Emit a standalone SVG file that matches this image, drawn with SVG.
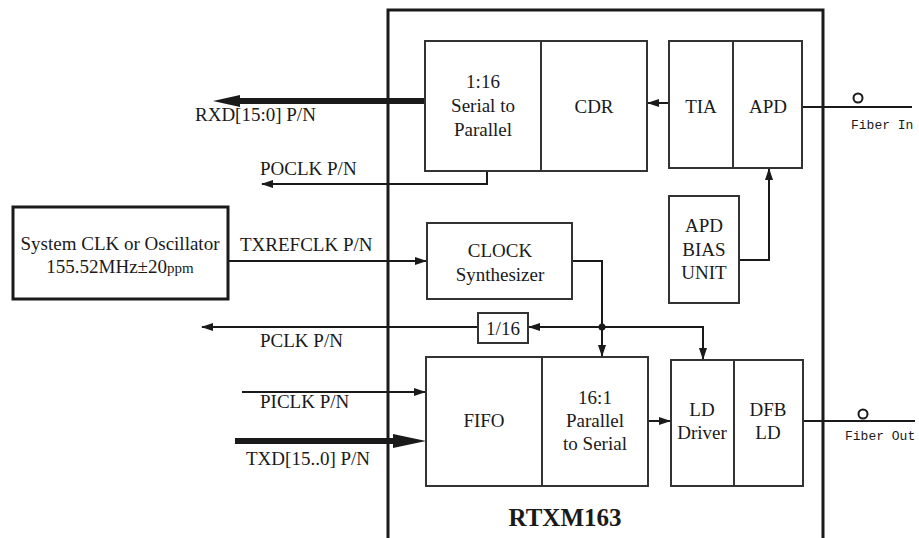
<svg xmlns="http://www.w3.org/2000/svg" width="919" height="538" viewBox="0 0 919 538">
<defs>
<style>
.t{font-family:"Liberation Serif","Times New Roman",serif;font-size:19px;fill:#1a1a1a}
.c{text-anchor:middle}
.m{font-family:"Liberation Mono","DejaVu Sans Mono",monospace;font-size:13px;fill:#1a1a1a}
.b{fill:#fff;stroke:#333;stroke-width:2}
.w{fill:none;stroke:#1a1a1a;stroke-width:2}
</style>
<marker id="ah" markerWidth="12" markerHeight="8" refX="11" refY="4" orient="auto" markerUnits="userSpaceOnUse">
<path d="M0,0 L12,4 L0,8 z" fill="#1a1a1a"/>
</marker>
</defs>
<rect width="919" height="538" fill="#fff"/>

<g id="module">
<path d="M388,538 V10 H823 V538" fill="none" stroke="#1a1a1a" stroke-width="3"/>
<text class="t" x="565" y="526" text-anchor="middle" style="font-weight:bold;font-size:25px">RTXM163</text>
</g>

<g id="connectors">
<line x1="425" y1="101" x2="236" y2="101" stroke="#1a1a1a" stroke-width="6"/>
<polygon points="213,101 240,95 240,107" fill="#1a1a1a"/>
<path class="w" d="M487,171 V184 H262" marker-end="url(#ah)"/>
<line class="w" x1="669" y1="103" x2="648" y2="103" marker-end="url(#ah)"/>
<line class="w" x1="802" y1="107" x2="912" y2="107"/>
<line class="w" x1="228" y1="261" x2="426" y2="261" marker-end="url(#ah)"/>
<path class="w" d="M572,261 H602 V356" marker-end="url(#ah)"/>
<circle cx="602" cy="327" r="3.5" fill="#1a1a1a"/>
<line class="w" x1="602" y1="327" x2="529" y2="327" marker-end="url(#ah)"/>
<path class="w" d="M602,327 H703 V359" marker-end="url(#ah)"/>
<line class="w" x1="478" y1="327" x2="202" y2="327" marker-end="url(#ah)"/>
<path class="w" d="M739,260 H769 V169" marker-end="url(#ah)"/>
<line class="w" x1="242" y1="392" x2="425" y2="392" marker-end="url(#ah)"/>
<line x1="235" y1="441" x2="396" y2="441" stroke="#1a1a1a" stroke-width="6"/>
<polygon points="426,441 393,434 393,448" fill="#1a1a1a"/>
<line class="w" x1="648" y1="421" x2="670" y2="421" marker-end="url(#ah)"/>
<line class="w" x1="803" y1="421" x2="915" y2="421"/>
</g>

<g id="fiber-in">
<circle cx="858" cy="98" r="4.5" fill="#fff" stroke="#1a1a1a" stroke-width="2"/>
<text class="m" x="851" y="129">Fiber In</text>
</g>
<g id="fiber-out">
<circle cx="863" cy="414" r="4.5" fill="#fff" stroke="#1a1a1a" stroke-width="2"/>
<text class="m" x="845" y="440">Fiber Out</text>
</g>

<g id="labels">
<text class="t" x="195" y="121">RXD[15:0] P/N</text>
<text class="t" x="260" y="175">POCLK P/N</text>
<text class="t" x="240" y="251">TXREFCLK P/N</text>
<text class="t" x="260" y="347">PCLK P/N</text>
<text class="t" x="260" y="408">PICLK P/N</text>
<text class="t" x="246" y="465">TXD[15..0] P/N</text>
</g>

<g id="sysclk">
<rect x="13" y="207" width="215" height="92" fill="#fff" stroke="#1a1a1a" stroke-width="3"/>
<text class="t c" x="120" y="250">System CLK or Oscillator</text>
<text class="t c" x="120" y="273">155.52MHz±20<tspan style="font-size:15px">ppm</tspan></text>
</g>

<g id="s2p">
<rect class="b" x="425" y="41" width="116" height="130"/>
<text class="t c" x="483" y="88">1:16</text>
<text class="t c" x="483" y="112">Serial to</text>
<text class="t c" x="483" y="136">Parallel</text>
</g>
<g id="cdr">
<rect class="b" x="541" y="41" width="106" height="130"/>
<text class="t c" x="594" y="113">CDR</text>
</g>
<g id="tia">
<rect class="b" x="669" y="41" width="64" height="127"/>
<text class="t c" x="701" y="113">TIA</text>
</g>
<g id="apd">
<rect class="b" x="733" y="41" width="69" height="127"/>
<text class="t c" x="768" y="113">APD</text>
</g>
<g id="apdbias">
<rect class="b" x="669" y="196" width="70" height="107"/>
<text class="t c" x="704" y="232">APD</text>
<text class="t c" x="704" y="256">BIAS</text>
<text class="t c" x="704" y="279">UNIT</text>
</g>
<g id="clocksynth">
<rect class="b" x="427" y="223" width="145" height="76"/>
<text class="t c" x="500" y="257">CLOCK</text>
<text class="t c" x="500" y="281">Synthesizer</text>
</g>
<g id="div16">
<rect class="b" x="478" y="313" width="50" height="30"/>
<text class="t c" x="503" y="335">1/16</text>
</g>
<g id="fifo">
<rect class="b" x="426" y="357" width="116" height="129"/>
<text class="t c" x="484" y="427">FIFO</text>
</g>
<g id="p2s">
<rect class="b" x="542" y="357" width="106" height="129"/>
<text class="t c" x="595" y="404">16:1</text>
<text class="t c" x="595" y="427">Parallel</text>
<text class="t c" x="595" y="450">to Serial</text>
</g>
<g id="lddriver">
<rect class="b" x="671" y="360" width="63" height="126"/>
<text class="t c" x="702" y="416">LD</text>
<text class="t c" x="702" y="439">Driver</text>
</g>
<g id="dfb">
<rect class="b" x="734" y="360" width="69" height="126"/>
<text class="t c" x="768" y="416">DFB</text>
<text class="t c" x="768" y="439">LD</text>
</g>
</svg>
